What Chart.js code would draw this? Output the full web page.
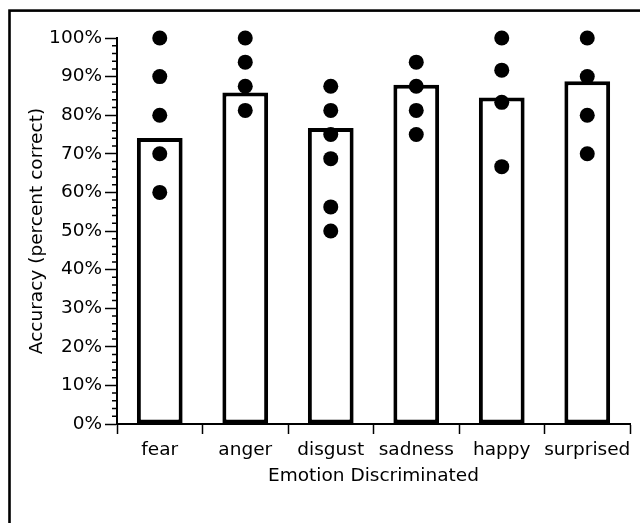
<!DOCTYPE html>
<html>
<head>
<meta charset="utf-8">
<script src="https://cdn.jsdelivr.net/npm/chart.js@4/dist/chart.umd.min.js"></script>
<style>
  html, body { margin: 0; padding: 0; background: #fff; }
  #wrap { position: relative; width: 640px; height: 523px; overflow: hidden; }
  canvas { display: block; }
</style>
</head>
<body>
<div id="wrap"><canvas id="c" width="640" height="523"></canvas></div>
<script>
// Emotion categories along the x axis
const emotions = ['fear', 'anger', 'disgust', 'sadness', 'happy', 'surprised'];

// Group accuracy (bar height, percent correct)
const groupAccuracy = [74.1, 85.9, 76.7, 87.9, 84.6, 88.8];

// Individual participant scores per emotion (dots)
const fearScores      = [100, 90, 80, 70, 60];
const angerScores     = [100, 93.75, 87.5, 81.25];
const disgustScores   = [87.5, 81.25, 75, 68.75, 56.25, 50];
const sadnessScores   = [93.75, 87.5, 81.25, 75];
const happyScores     = [100, 91.67, 83.33, 66.67];
const surprisedScores = [100, 90, 80, 70];

// Y axis range and tick spacing
const yMin = 0, yMax = 100, yMajorStep = 10, yMinorStep = 2;

const individualScores = [fearScores, angerScores, disgustScores, sadnessScores, happyScores, surprisedScores];
const dotPoints = [];
individualScores.forEach((scores, i) => {
  scores.forEach(v => dotPoints.push({ x: emotions[i], y: v }));
});

const FONT = 'DejaVu Sans';
const FS = 18.5;

// Panel frame around the figure
const framePlugin = {
  id: 'frame',
  beforeDraw(chart) {
    const ctx = chart.ctx;
    ctx.save();
    ctx.strokeStyle = '#000';
    ctx.lineWidth = 2.6;
    ctx.strokeRect(9.5, 10.6, 1000, 1000);
    ctx.restore();
  }
};

// Short minor ticks between the labelled percentages
const minorTicksPlugin = {
  id: 'minorTicks',
  afterDraw(chart) {
    const s = chart.scales.y;
    const ctx = chart.ctx;
    ctx.save();
    ctx.strokeStyle = '#000';
    ctx.lineWidth = 1.5;
    ctx.beginPath();
    for (let v = yMin; v <= yMax; v += yMinorStep) {
      if (v % yMajorStep === 0) continue;
      const py = s.getPixelForValue(v);
      ctx.moveTo(s.right - 5, py);
      ctx.lineTo(s.right, py);
    }
    ctx.stroke();
    ctx.restore();
  }
};

new Chart(document.getElementById('c'), {
  data: {
    labels: emotions,
    datasets: [
      {
        type: 'line',
        data: dotPoints,
        showLine: false,
        pointRadius: 7.5,
        pointHoverRadius: 7.5,
        pointBackgroundColor: '#000',
        pointBorderWidth: 0,
        clip: false,
        order: 0
      },
      {
        type: 'bar',
        data: groupAccuracy,
        backgroundColor: '#fff',
        borderColor: '#000',
        borderWidth: 4,
        borderSkipped: false,
        categoryPercentage: 1,
        barPercentage: 0.535,
        order: 1
      }
    ]
  },
  options: {
    responsive: false,
    animation: false,
    devicePixelRatio: 1,
    layout: { padding: { left: 0, top: 38, right: 10, bottom: 0 } },
    plugins: { legend: { display: false }, tooltip: { enabled: false } },
    scales: {
      x: {
        type: 'category',
        offset: true,
        afterFit(scale) { scale.height = 99; },
        grid: { offset: true, drawOnChartArea: false, drawTicks: true, tickLength: 10, tickWidth: 1.5, tickColor: '#000' },
        border: { display: true, color: '#000', width: 2 },
        ticks: { color: '#000', font: { family: FONT, size: FS }, padding: 5, maxRotation: 0, autoSkip: false },
        title: { display: true, text: 'Emotion Discriminated', color: '#000', font: { family: FONT, size: FS }, padding: { top: 0, bottom: 36 } }
      },
      y: {
        min: yMin,
        max: yMax,
        afterFit(scale) { scale.width = 117; },
        grid: { drawOnChartArea: false, drawTicks: true, tickLength: 12, tickWidth: 1.5, tickColor: '#000' },
        border: { display: true, color: '#000', width: 2 },
        ticks: { stepSize: yMajorStep, color: '#000', font: { family: FONT, size: FS }, padding: 3, callback: v => v + '%' },
        title: { display: true, text: 'Accuracy (percent correct)', color: '#000', font: { family: FONT, size: FS }, padding: { top: 26, bottom: 0 } }
      }
    }
  },
  plugins: [framePlugin, minorTicksPlugin]
});
</script>
</body>
</html>
